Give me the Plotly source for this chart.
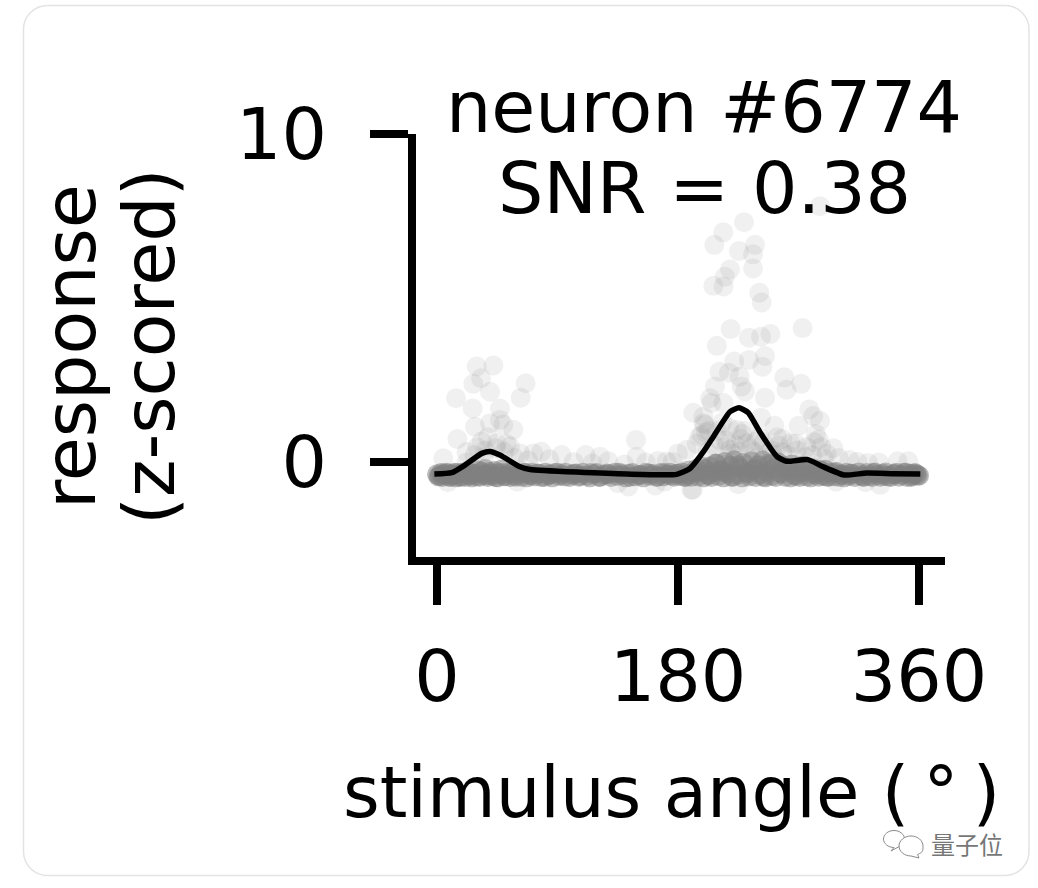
import plotly.graph_objects as go

W, H = 1038, 888
FONT = "DejaVu Sans"

# dense baseline trials (angle in degrees, z-scored response)
band_angle = [0,1,3,4,6,8,9,11,13,14,16,18,19,21,23,25,26,28,31,32,34,36,38,39,41,43,45,46,48,51,53,55,57,58,61,63,65,67,69,71,
              73,76,78,81,83,86,88,91,93,96,99,101,104,106,109,112,114,117,119,122,125,127,130,133,135,138,141,143,146,148,151,154,156,159,161,164,167,169,172,174,
              177,179,181,183,185,187,188,190,192,194,195,197,199,200,202,204,205,207,209,210,212,214,215,217,219,221,222,224,226,228,229,231,233,235,236,238,240,241,243,245,
              246,248,250,251,253,255,257,258,260,262,264,265,267,269,271,272,274,276,278,279,281,283,285,287,288,290,292,294,296,298,300,302,304,306,308,310,312,315,317,319,
              321,323,325,327,329,331,333,335,337,339,341,343,345,347,349,351,353,355,357,359,
              2,5,7,10,12,15,17,20,24,27,30,33,37,40,44,47,50,54,59,66,70,75,80,84,90,95,102,107,115,121,128,136,144,152,158,165,170,175,180,186,
              193,198,203,208,213,220,225,232,237,244,249,256,261,268,273,280,286,291,297,303,309,318,326,334,342,350,354,358,360,356]
band_resp = [-0.38,-0.44,-0.34,-0.46,-0.4,-0.35,-0.45,-0.41,-0.33,-0.47,-0.39,-0.44,-0.34,-0.46,-0.3,-0.42,-0.47,-0.36,-0.26,-0.45,-0.38,-0.22,-0.46,-0.31,-0.42,-0.28,-0.47,-0.37,-0.24,-0.44,-0.32,-0.46,-0.3,-0.41,-0.36,-0.45,-0.33,-0.47,-0.39,-0.33,
             -0.44,-0.36,-0.46,-0.33,-0.41,-0.47,-0.34,-0.43,-0.38,-0.33,-0.46,-0.4,-0.35,-0.45,-0.33,-0.42,-0.47,-0.37,-0.34,-0.45,-0.39,-0.35,-0.46,-0.33,-0.43,-0.38,-0.47,-0.36,-0.34,-0.44,-0.4,-0.47,-0.33,-0.42,-0.37,-0.46,-0.34,-0.44,-0.39,-0.33,
             -0.45,-0.36,-0.43,-0.32,-0.46,-0.38,-0.26,-0.45,-0.33,-0.2,-0.44,-0.3,-0.47,-0.22,-0.4,-0.14,-0.46,-0.31,-0.06,-0.43,-0.24,-0.47,0.0,-0.35,-0.12,-0.45,0.05,-0.4,-0.18,-0.47,-0.03,-0.33,-0.44,0.02,-0.25,-0.46,-0.1,-0.38,0.04,-0.47,
             -0.3,-0.05,-0.43,-0.2,-0.46,-0.02,-0.36,-0.12,-0.45,-0.26,-0.47,-0.08,-0.4,-0.22,-0.46,-0.32,-0.16,-0.44,-0.27,-0.47,-0.2,-0.38,-0.45,-0.28,-0.42,-0.24,-0.46,-0.33,-0.44,-0.3,-0.45,-0.38,-0.47,-0.33,-0.43,-0.36,-0.46,-0.32,-0.41,-0.45,
             -0.34,-0.43,-0.46,-0.32,-0.4,-0.45,-0.36,-0.32,-0.44,-0.46,-0.38,-0.33,-0.45,-0.4,-0.33,-0.46,-0.36,-0.43,-0.34,-0.41,
             -0.43,-0.36,-0.33,-0.45,-0.38,-0.34,-0.46,-0.32,-0.4,-0.35,-0.44,-0.3,-0.41,-0.36,-0.46,-0.33,-0.43,-0.37,-0.45,-0.34,-0.41,-0.35,-0.46,-0.38,-0.33,-0.44,-0.36,-0.42,-0.34,-0.46,-0.38,-0.33,-0.45,-0.4,-0.35,-0.44,-0.34,-0.41,-0.36,-0.45,
             -0.3,-0.15,-0.4,-0.05,-0.3,-0.45,-0.1,-0.35,-0.2,-0.44,-0.08,-0.32,-0.22,-0.43,-0.12,-0.36,-0.25,-0.44,-0.33,-0.4,-0.36,-0.45,-0.34,-0.42,-0.37,-0.33,-0.46,-0.38,-0.42,-0.36]

# sparse trials read individually
sparse_angle = [29.6,42.1,32.9,27.1,39.6,14.2,66.2,62.5,26.6,47.0,28.4,47.0,49.5,57.0,15.2,33.4,39.6,4.7,44.6,54.5,62.0,72.0,78.0,93.0,111.0,121.7,148.6,149.0,171.5,180.0,
                191.4,199.0,200.0,197.6,204.0,207.6,229.3,213.8,207.1,237.5,225.5,236.0,236.0,218.8,215.0,206.4,214.0,240.7,242.5,286.0,219.3,273.0,233.0,242.0,249.0,209.0,
                245.0,222.0,233.0,243.0,210.9,218.0,226.0,259.4,272.0,261.0,227.5,230.0,245.0,205.0,213.9,278.0,199.0,242.0,252.0,270.0,286.0,281.0,285.0,296.0,308.0,322.0,344.0,196.0,
                224.0,211.0,231.0,219.0,264.0,186.5,191.0,143.0,163.0,190.0,331.0,38.0,22.0,52.0,35.0,30.0,203.0,216.0,228.0,238.0,250.0,258.0,283.0,291.0,276.0,218.0,226.0,240.0,254.0,268.0,
                44.0,36.0,28.0,50.0,58.0,22.0,68.0,84.0,102.0,116.0,128.0,140.0,156.0,165.0,176.0,
                194.0,201.0,207.0,213.0,220.0,227.0,234.0,241.0,248.0,255.0,262.0,269.0,275.0,282.0,289.0,202.0,209.0,216.0,223.0,230.0,237.0,244.0,251.0,258.0,280.0,287.0,300.0,314.0,330.0,352.0,
                8.0,60.0,135.0,170.0,225.0,298.0,320.0]
sparse_resp = [2.91,2.94,2.55,2.38,2.14,1.94,2.40,1.96,1.63,1.63,1.07,1.28,1.13,0.98,0.70,0.62,1.18,0.11,0.57,0.47,0.26,0.26,0.31,0.21,0.21,0.16,0.67,0.16,0.01,0.26,
               1.50,1.38,1.13,0.82,1.94,2.30,7.31,7.00,6.62,6.62,6.43,6.33,5.90,5.87,5.65,5.37,5.35,5.16,4.86,7.80,4.05,4.08,3.79,3.82,3.90,3.54,
               3.23,3.06,3.11,2.90,2.75,2.72,2.60,2.58,2.38,2.20,2.30,2.15,1.96,1.80,1.80,1.60,1.18,1.35,1.10,1.10,1.25,1.40,0.68,0.42,0.06,-0.03,0.02,0.77,
               0.97,0.67,0.57,0.37,0.57,0.37,-0.85,-0.75,-0.72,-0.85,-0.70,0.75,0.30,0.55,0.15,0.45,0.95,0.45,0.85,0.62,0.35,0.30,0.85,0.25,0.45,1.05,0.30,0.15,0.75,0.55,
               0.42,0.35,0.2,0.3,0.12,-0.02,0.05,0.08,0.0,-0.05,0.02,-0.08,-0.02,0.03,0.0,
               0.55,0.9,0.5,1.2,0.25,0.7,0.4,0.75,0.3,0.5,0.2,0.35,0.15,0.6,0.1,0.3,0.95,0.65,0.5,0.95,0.3,0.6,0.2,0.7,0.2,0.45,0.12,0.0,-0.02,0.02,
               -0.62,-0.6,-0.65,-0.6,-0.68,-0.6,-0.62]

# mean tuning curve
curve_angle = [-2,11,19.7,33.4,39.6,47,62,69.5,141.6,179,189,199,206.4,218.8,225.5,232.5,241,253.7,261,277,288,304,321,341,361]
curve_resp = [-0.37,-0.33,-0.13,0.26,0.32,0.21,-0.15,-0.23,-0.37,-0.38,-0.2,0.31,0.77,1.53,1.65,1.5,0.92,0.17,0.02,0.07,-0.14,-0.4,-0.34,-0.36,-0.37]

x_ticks = [0, 180, 360]
y_ticks = [0, 10]


def px(x, y):
    return f"{x / W:.5f} {1 - y / H:.5f}"


def bubble(cx, cy, rx, ry, tailx, taily):
    k = 0.55
    return (f"M {px(cx + rx, cy)} C {px(cx + rx, cy - k * ry)} {px(cx + k * rx, cy - ry)} {px(cx, cy - ry)} "
            f"C {px(cx - k * rx, cy - ry)} {px(cx - rx, cy - k * ry)} {px(cx - rx, cy)} "
            f"C {px(cx - rx, cy + k * ry)} {px(cx - k * rx, cy + ry)} {px(cx, cy + ry)} "
            f"L {px(tailx, taily)} L {px(cx + k * rx, cy + ry * 0.85)} "
            f"C {px(cx + rx, cy + ry * 0.6)} {px(cx + rx, cy + k * ry)} {px(cx + rx, cy)} Z")


def card(x0, y0, x1, y1, r):
    k = 0.45 * r
    return (f"M {px(x0 + r, y0)} L {px(x1 - r, y0)} C {px(x1 - k, y0)} {px(x1, y0 + k)} {px(x1, y0 + r)} "
            f"L {px(x1, y1 - r)} C {px(x1, y1 - k)} {px(x1 - k, y1)} {px(x1 - r, y1)} "
            f"L {px(x0 + r, y1)} C {px(x0 + k, y1)} {px(x0, y1 - k)} {px(x0, y1 - r)} "
            f"L {px(x0, y0 + r)} C {px(x0, y0 + k)} {px(x0 + k, y0)} {px(x0 + r, y0)} Z")


fig = go.Figure()
fig.add_trace(go.Scatter(x=band_angle, y=band_resp, mode="markers",
                         marker=dict(size=20, color="rgba(128,128,128,0.5)", line=dict(width=0)), showlegend=False))
fig.add_trace(go.Scatter(x=sparse_angle, y=sparse_resp, mode="markers",
                         marker=dict(size=20, color="rgba(128,128,128,0.12)", line=dict(width=0)), showlegend=False))
fig.add_trace(go.Scatter(x=curve_angle, y=curve_resp, mode="lines",
                         line=dict(color="black", width=5.5, shape="spline", smoothing=0.5), showlegend=False))

icon = dict(type="path", xref="paper", yref="paper", line=dict(color="#8a8a8a", width=1), fillcolor="white", layer="above")
shapes = [
    dict(type="path", xref="paper", yref="paper", path=card(23.5, 5.5, 1029, 875.5, 24),
         line=dict(color="#e3e3e3", width=1.5), layer="below"),
    dict(icon, path=bubble(894, 839, 10.5, 8.5, 891, 851)),
    dict(icon, path=bubble(911, 846, 12, 10, 919, 858)),
]

T = dict(family=FONT, color="black")
SIZE = 71.5
annotations = [
    dict(text="neuron #6774", xref="paper", yref="paper", x=704 / W, y=1 - 108 / H, showarrow=False,
         xanchor="center", yanchor="middle", font=dict(T, size=SIZE)),
    dict(text="SNR = 0.38", xref="paper", yref="paper", x=704 / W, y=1 - 188 / H, showarrow=False,
         xanchor="center", yanchor="middle", font=dict(T, size=SIZE)),
    dict(text="response", xref="paper", yref="paper", x=71 / W, y=1 - 347 / H, showarrow=False, textangle=-90,
         xanchor="center", yanchor="middle", font=dict(T, size=SIZE)),
    dict(text="(z-scored)", xref="paper", yref="paper", x=150 / W, y=1 - 347 / H, showarrow=False, textangle=-90,
         xanchor="center", yanchor="middle", font=dict(T, size=SIZE)),
    dict(text="stimulus angle (\u2009°\u2009)", xref="paper", yref="paper", x=671 / W, y=1 - 793 / H, showarrow=False,
         xanchor="center", yanchor="middle", font=dict(T, size=70.5)),
    dict(text="量子位", xref="paper", yref="paper", x=967 / W, y=1 - 843 / H, showarrow=False,
         xanchor="center", yanchor="middle", font=dict(family="Noto Sans CJK SC", size=24, color="#777777")),
]

fig.update_layout(
    width=W, height=H, margin=dict(l=0, r=0, t=0, b=0), paper_bgcolor="white", plot_bgcolor="white",
    showlegend=False, shapes=shapes, annotations=annotations,
    xaxis=dict(domain=[416 / W, 945 / W], range=[-15.7, 379.4], tickmode="array", tickvals=x_ticks, automargin=False,
               ticktext=[str(v) for v in x_ticks], showgrid=False, zeroline=False, showline=True, linecolor="black",
               linewidth=7.5, ticks="outside", ticklen=40, tickwidth=7.5, tickcolor="black", ticklabelstandoff=10,
               tickfont=dict(T, size=SIZE)),
    yaxis=dict(domain=[1 - 557 / H, 1 - 134 / H], range=[-2.9, 10], tickmode="array", tickvals=y_ticks, automargin=False,
               ticktext=[str(v) for v in y_ticks], showgrid=False, zeroline=False, showline=True, linecolor="black",
               linewidth=7.5, ticks="outside", ticklen=38, tickwidth=7.5, tickcolor="black", ticklabelstandoff=29,
               tickfont=dict(T, size=SIZE)),
)

fig.write_html("out.html", config={"displayModeBar": False},
               post_script="document.body.style.margin='0';document.body.style.overflow='hidden';")
